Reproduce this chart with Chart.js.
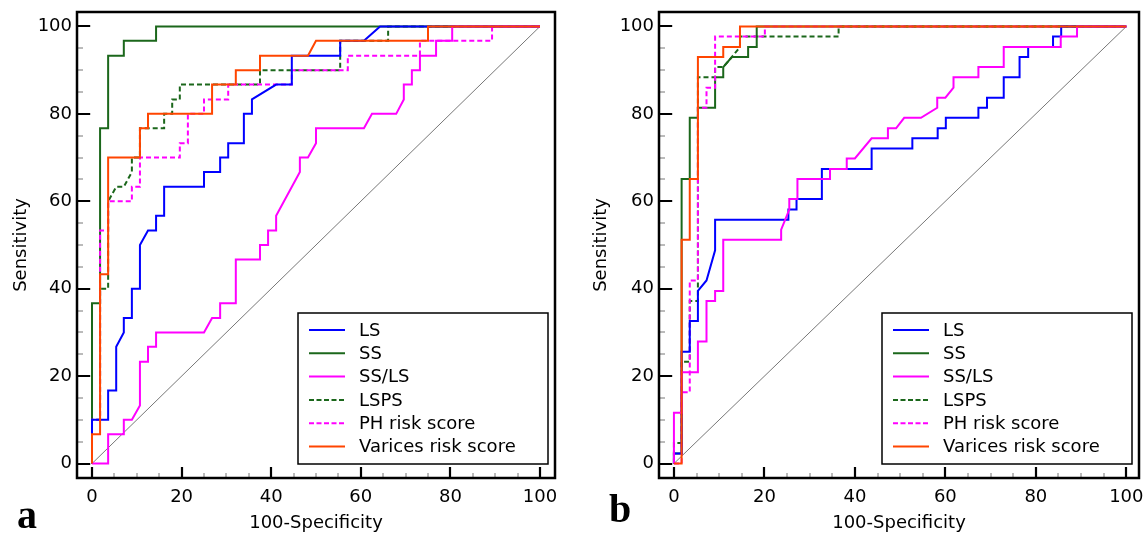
<!DOCTYPE html>
<html>
<head>
<meta charset="utf-8">
<script src="https://cdn.jsdelivr.net/npm/chart.js@4/dist/chart.umd.min.js"></script>
<style>
body{margin:0;background:#fff;width:1146px;height:540px;overflow:hidden;position:relative;}
.panel{position:absolute;top:0;height:540px;}
.tag{position:absolute;font-family:'Liberation Serif',serif;font-weight:bold;font-size:40px;line-height:40px;color:#000;}
</style>
</head>
<body>
<div class="panel" style="left:0;width:573px"><canvas id="ca" width="573" height="540"></canvas></div>
<div class="panel" style="left:580px;width:566px"><canvas id="cb" width="566" height="540"></canvas></div>
<div class="tag" style="left:17px;top:495px">a</div>
<div class="tag" style="left:609px;top:489px">b</div>
<script>
// ── DATA ──
const SERIES = ['LS','SS','SS/LS','LSPS','PH risk score','Varices risk score'];
const MAJOR_TICKS = [0,20,40,60,80,100];
const MINOR_TICKS = [5,10,15,25,30,35,45,50,55,65,70,75,85,90,95];
const DIAGONAL = [[0,0],[100,100]];

// panel a  [100-specificity, sensitivity]
const a_LS = [[0,0],[0,10],[3.6,10],[3.6,16.7],[5.4,16.7],[5.4,26.7],[7.1,30],[7.1,33.3],[8.9,33.3],[8.9,40],[10.7,40],[10.7,50],[12.5,53.3],[14.3,53.3],[14.3,56.7],[16.1,56.7],[16.1,63.3],[25,63.3],[25,66.7],[28.6,66.7],[28.6,70],[30.4,70],[30.4,73.3],[33.9,73.3],[33.9,80],[35.7,80],[35.7,83.3],[41.1,86.7],[44.6,86.7],[44.6,93.3],[55.4,93.3],[55.4,96.7],[60.7,96.7],[64.3,100],[100,100]];
const a_SS = [[0,0],[0,36.7],[1.8,36.7],[1.8,76.7],[3.6,76.7],[3.6,93.3],[7.1,93.3],[7.1,96.7],[14.3,96.7],[14.3,100],[100,100]];
const a_SSLS = [[0,0],[3.6,0],[3.6,6.7],[7.1,6.7],[7.1,10],[8.9,10],[10.7,13.3],[10.7,23.3],[12.5,23.3],[12.5,26.7],[14.3,26.7],[14.3,30],[25,30],[26.8,33.3],[28.6,33.3],[28.6,36.7],[32.1,36.7],[32.1,46.7],[37.5,46.7],[37.5,50],[39.3,50],[39.3,53.3],[41.1,53.3],[41.1,56.7],[46.4,66.7],[46.4,70],[48.2,70],[50,73.3],[50,76.7],[60.7,76.7],[62.5,80],[67.9,80],[69.6,83.3],[69.6,86.7],[71.4,86.7],[71.4,90],[73.2,90],[73.2,93.3],[76.8,93.3],[76.8,96.7],[80.4,96.7],[80.4,100],[100,100]];
const a_LSPS = [[0,0],[0,10],[1.8,10],[1.8,40],[3.6,40],[3.6,60],[5.4,63.3],[7.1,63.3],[8.9,66.7],[8.9,70],[10.7,70],[10.7,76.7],[16.1,76.7],[16.1,80],[17.9,80],[17.9,83.3],[19.6,83.3],[19.6,86.7],[37.5,86.7],[37.5,90],[55.4,90],[55.4,96.7],[66.1,96.7],[66.1,100],[100,100]];
const a_PH = [[0,0],[0,10],[1.8,10],[1.8,53.3],[3.6,53.3],[3.6,60],[8.9,60],[8.9,63.3],[10.7,63.3],[10.7,70],[19.6,70],[19.6,73.3],[21.4,73.3],[21.4,80],[25,80],[25,83.3],[30.4,83.3],[30.4,86.7],[44.6,86.7],[44.6,90],[57.1,90],[57.1,93.3],[73.2,93.3],[73.2,96.7],[89.3,96.7],[89.3,100],[100,100]];
const a_VAR = [[0,0],[0,6.7],[1.8,6.7],[1.8,43.3],[3.6,43.3],[3.6,70],[10.7,70],[10.7,76.7],[12.5,76.7],[12.5,80],[26.8,80],[26.8,86.7],[32.1,86.7],[32.1,90],[37.5,90],[37.5,93.3],[48.2,93.3],[50,96.7],[75,96.7],[75,100],[100,100]];

// panel b
const b_LS = [[0,0],[0,2.3],[1.7,2.3],[1.7,25.6],[3.5,25.6],[3.5,32.6],[5.3,32.6],[5.3,39.5],[7.2,41.9],[9.1,48.8],[9.1,55.8],[25.3,55.8],[25.3,58.1],[27.1,58.1],[27.1,60.5],[32.7,60.5],[32.7,67.4],[43.7,67.4],[43.7,72.1],[52.7,72.1],[52.7,74.4],[58.3,74.4],[58.3,76.7],[60.1,76.7],[60.1,79.1],[67.3,79.1],[67.3,81.4],[69.2,81.4],[69.2,83.7],[72.9,83.7],[72.9,88.4],[76.4,88.4],[76.4,93],[78.3,93],[78.3,95.3],[83.8,95.3],[83.8,97.7],[85.6,97.7],[85.6,100],[100,100]];
const b_SS = [[0,0],[0,2.3],[1.7,2.3],[1.7,65.1],[3.5,65.1],[3.5,79.1],[5.3,79.1],[5.3,81.4],[9.1,81.4],[9.1,88.4],[10.9,88.4],[10.9,90.7],[12.8,93],[16.4,93],[16.4,95.3],[18.3,95.3],[18.3,100],[100,100]];
const b_SSLS = [[0,0],[0,11.6],[1.7,11.6],[1.7,20.9],[5.3,20.9],[5.3,27.9],[7.2,27.9],[7.2,37.2],[9.1,37.2],[9.1,39.5],[10.9,39.5],[10.9,51.2],[23.7,51.2],[23.7,53.5],[25.5,58.1],[25.5,60.5],[27.3,60.5],[27.3,65.1],[34.5,65.1],[34.5,67.4],[38.2,67.4],[38.2,69.8],[40,69.8],[43.7,74.4],[47.3,74.4],[47.3,76.7],[49.1,76.7],[50.9,79.1],[54.6,79.1],[58.2,81.4],[58.2,83.7],[60,83.7],[61.8,86],[61.8,88.4],[67.3,88.4],[67.3,90.7],[72.9,90.7],[72.9,95.3],[85.5,95.3],[85.5,97.7],[89.1,97.7],[89.1,100],[100,100]];
const b_LSPS = [[0,0],[0,4.7],[1.7,4.7],[1.7,23.3],[3.5,23.3],[3.5,37.2],[5.3,37.2],[5.3,88.4],[9.1,88.4],[9.1,90.7],[10.9,90.7],[12.8,93],[14.6,95.3],[14.6,97.7],[36.4,97.7],[36.4,100],[100,100]];
const b_PH = [[0,0],[1.7,0],[1.7,16.3],[3.5,16.3],[3.5,41.9],[5.3,41.9],[5.3,81.4],[7.2,81.4],[7.2,86],[9.1,86],[9.1,97.7],[20.1,97.7],[20.1,100],[100,100]];
const b_VAR = [[0,0],[1.7,0],[1.7,51.2],[3.5,51.2],[3.5,65.1],[5.3,65.1],[5.3,93],[10.9,93],[10.9,95.3],[14.6,95.3],[14.6,100],[100,100]];

// ── STYLE ──
const COLORS = ['#0000ff','#1b671b','#ff00ff','#1b671b','#ff00ff','#ff4500'];
const DASHES = [[],[],[],[5,3],[5,3],[]];
const ORDER  = [2,5,1,4,3,0];   // lower = drawn on top
const FONT = {family:"'DejaVu Sans', sans-serif", size:18};

const pts = arr => arr.map(p=>({x:p[0],y:p[1]}));

// frame, inward ticks and boxed legend
const decor = {
  id:'decor',
  afterDatasetsDraw(chart){
    const {ctx, chartArea:ca, scales:{x,y}} = chart;
    ctx.save();
    const tick = (v, len, w, col) => {
      ctx.strokeStyle = col; ctx.lineWidth = w;
      const px = Math.round(x.getPixelForValue(v)), py = Math.round(y.getPixelForValue(v));
      ctx.beginPath();
      ctx.moveTo(px, ca.bottom); ctx.lineTo(px, ca.bottom - len);
      ctx.moveTo(ca.left, py); ctx.lineTo(ca.left + len*1.2, py);
      ctx.stroke();
    };
    MINOR_TICKS.forEach(v=>tick(v,5,1,'#777'));
    MAJOR_TICKS.forEach(v=>tick(v,11,2.2,'#000'));
    // frame
    ctx.strokeStyle = '#000'; ctx.lineWidth = 2.5;
    ctx.strokeRect(ca.left, ca.top, ca.right-ca.left, ca.bottom-ca.top);
    // legend box
    const lw = 250, lh = 151;
    const lx = ca.right - 7 - lw, ly = ca.bottom - 14 - lh;
    ctx.fillStyle = '#fff';
    ctx.fillRect(lx, ly, lw, lh);
    ctx.lineWidth = 1.5;
    ctx.strokeRect(lx, ly, lw, lh);
    ctx.font = FONT.size + 'px ' + FONT.family;
    ctx.textBaseline = 'middle';
    SERIES.forEach((name,i)=>{
      const ry = ly + 17 + i*23.3;
      ctx.strokeStyle = COLORS[i]; ctx.lineWidth = 2;
      ctx.setLineDash(DASHES[i].length ? [5,2.5] : []);
      ctx.beginPath(); ctx.moveTo(lx+11, ry); ctx.lineTo(lx+47, ry); ctx.stroke();
      ctx.setLineDash([]);
      ctx.fillStyle = '#000';
      ctx.fillText(name, lx+61, ry+1);
    });
    ctx.restore();
  }
};

function makeChart(id, sets, xRange, yWidth, padRight){
  const datasets = sets.map((s,i)=>({
    label: SERIES[i], data: pts(s), borderColor: COLORS[i], borderWidth: 2,
    borderDash: DASHES[i], order: ORDER[i], showLine: true, pointRadius: 0, tension: 0
  }));
  datasets.push({label:'ref', data: pts(DIAGONAL), borderColor:'#777', borderWidth:1,
    order: 10, showLine:true, pointRadius:0});
  return new Chart(document.getElementById(id), {
    type:'scatter',
    data:{datasets},
    options:{
      responsive:false, animation:false, devicePixelRatio:1,
      layout:{autoPadding:false, padding:{left:5, right:padRight, top:12, bottom:0}},
      plugins:{legend:{display:false}, tooltip:{enabled:false}},
      scales:{
        x:{type:'linear', min:xRange[0], max:xRange[1],
          afterBuildTicks: s => { s.ticks = MAJOR_TICKS.map(v=>({value:v})); },
          afterFit: s => { s.height = 62; s.paddingLeft = 0; s.paddingRight = 0; },
          grid:{display:false, drawTicks:false}, border:{display:false},
          ticks:{font:FONT, color:'#000', padding:9, maxRotation:0},
          title:{display:true, text:'100-Specificity', font:FONT, color:'#000', padding:{top:0,bottom:6}}},
        y:{type:'linear', min:-3.3, max:103.3,
          afterBuildTicks: s => { s.ticks = MAJOR_TICKS.map(v=>({value:v})); },
          afterFit: s => { s.width = yWidth; s.paddingTop = 0; s.paddingBottom = 0; },
          grid:{display:false, drawTicks:false}, border:{display:false},
          ticks:{font:FONT, color:'#000', padding:5},
          title:{display:true, text:'Sensitivity', font:FONT, color:'#000', padding:{top:6,bottom:0}}}
      }
    },
    plugins:[decor]
  });
}

makeChart('ca', [a_LS,a_SS,a_SSLS,a_LSPS,a_PH,a_VAR], [-3.35,103.35], 72, 18);
makeChart('cb', [b_LS,b_SS,b_SSLS,b_LSPS,b_PH,b_VAR], [-3.3,102.8], 74, 7);
</script>
</body>
</html>
